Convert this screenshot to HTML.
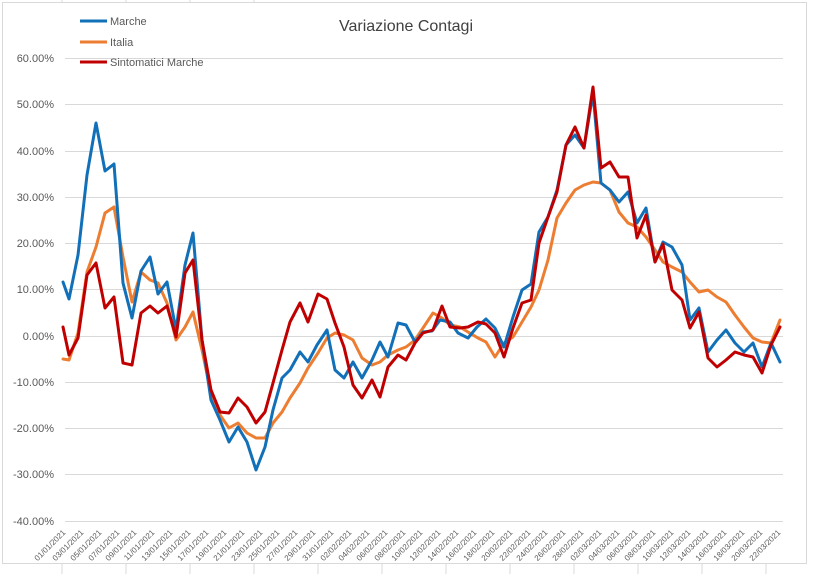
<!DOCTYPE html>
<html><head><meta charset="utf-8"><style>
html,body{margin:0;padding:0;background:#fff;}
svg{display:block;font-family:"Liberation Sans",sans-serif;}
</style></head><body>
<svg width="817" height="574" viewBox="0 0 817 574" xmlns="http://www.w3.org/2000/svg">
<rect x="0" y="0" width="817" height="574" fill="#fff"/>
<g stroke="#d9d9d9" stroke-width="1">
<line x1="62" y1="564" x2="62" y2="574"/><line x1="126" y1="564" x2="126" y2="574"/><line x1="190" y1="564" x2="190" y2="574"/><line x1="254" y1="564" x2="254" y2="574"/><line x1="318" y1="564" x2="318" y2="574"/><line x1="382" y1="564" x2="382" y2="574"/><line x1="446" y1="564" x2="446" y2="574"/><line x1="510" y1="564" x2="510" y2="574"/><line x1="574" y1="564" x2="574" y2="574"/><line x1="638" y1="564" x2="638" y2="574"/><line x1="702" y1="564" x2="702" y2="574"/><line x1="766" y1="564" x2="766" y2="574"/>
<line x1="62" y1="0" x2="62" y2="2"/><line x1="126" y1="0" x2="126" y2="2"/><line x1="190" y1="0" x2="190" y2="2"/><line x1="254" y1="0" x2="254" y2="2"/>
</g>
<rect x="2.5" y="2.5" width="804" height="561" fill="#fff" stroke="#d9d9d9"/>
<g stroke="#d9d9d9" stroke-width="1">
<line x1="65" y1="58.5" x2="783" y2="58.5"/>
<line x1="65" y1="104.5" x2="783" y2="104.5"/>
<line x1="65" y1="151.5" x2="783" y2="151.5"/>
<line x1="65" y1="197.5" x2="783" y2="197.5"/>
<line x1="65" y1="243.5" x2="783" y2="243.5"/>
<line x1="65" y1="289.5" x2="783" y2="289.5"/>
<line x1="65" y1="336.5" x2="783" y2="336.5"/>
<line x1="65" y1="382.5" x2="783" y2="382.5"/>
<line x1="65" y1="428.5" x2="783" y2="428.5"/>
<line x1="65" y1="474.5" x2="783" y2="474.5"/>
<line x1="65" y1="521.5" x2="783" y2="521.5"/>
</g>
<g font-size="11" fill="#595959" text-anchor="end">
<text x="54" y="62">60.00%</text>
<text x="54" y="108">50.00%</text>
<text x="54" y="155">40.00%</text>
<text x="54" y="201">30.00%</text>
<text x="54" y="247">20.00%</text>
<text x="54" y="293">10.00%</text>
<text x="54" y="340">0.00%</text>
<text x="54" y="386">-10.00%</text>
<text x="54" y="432">-20.00%</text>
<text x="54" y="478">-30.00%</text>
<text x="54" y="525">-40.00%</text>
</g>
<text x="406" y="31" font-size="16" fill="#404040" text-anchor="middle">Variazione Contagi</text>
<g stroke-width="3">
<line x1="80" y1="21" x2="107" y2="21" stroke="#1170b8"/>
<line x1="80" y1="42" x2="107" y2="42" stroke="#ed7d31"/>
<line x1="80" y1="62" x2="107" y2="62" stroke="#c00000"/>
</g>
<g font-size="11" fill="#595959">
<text x="110" y="25">Marche</text>
<text x="110" y="46">Italia</text>
<text x="110" y="66">Sintomatici Marche</text>
</g>
<g fill="none" stroke-width="3" stroke-linejoin="round" stroke-linecap="round">
<polyline stroke="#ed7d31" points="63,359 69,360 78,333 87,272 96,247 105,213 114,207 123,257 132,302 141,272 150,280 158,283 167,303 176,340 185,327 193,312 202,350 211,393 220,415 229,428 238,423 247,433 256,438 265,438 273,423 282,412 290,398 300,383 308,368 318,353 327,338 335,333 344,335 353,340 362,358 372,365 380,362 388,355 398,350 406,347 415,340 423,328 433,313 442,318 450,325 460,327 468,332 478,338 486,342 495,357 504,343 513,337 522,322 531,307 539,290 548,260 557,218 566,203 575,190 584,185 593,182 601,183 610,190 619,212 628,223 637,227 646,237 655,250 663,262 672,267 682,272 690,282 699,292 708,290 717,297 726,302 735,315 744,327 753,338 762,342 771,343 780,320"/>
<polyline stroke="#1170b8" points="63,282 69,299 78,255 87,175 96,123 105,171 114,164 123,283 132,318 141,271 150,257 158,294 167,282 176,330 185,265 193,233 202,340 211,400 220,420 229,442 238,427 247,442 256,470 265,447 273,410 282,378 290,370 300,352 308,362 317,345 327,330 335,370 344,378 353,362 362,378 372,360 380,342 388,357 398,323 406,325 415,342 423,332 432,331 440,320 450,322 458,333 468,338 477,327 486,319 495,328 504,347 513,317 522,290 531,284 539,232 548,217 557,190 566,145 575,135 584,148 593,93 601,183 610,190 619,202 628,192 637,223 646,208 655,262 663,242 672,247 682,265 690,320 699,308 708,352 717,340 726,330 735,343 744,352 753,343 762,367 771,343 780,362"/>
<polyline stroke="#c00000" points="63,327 69,355 78,338 87,275 96,263 105,308 114,297 123,363 132,365 141,313 150,306 158,313 167,306 176,337 185,273 193,260 202,340 211,390 220,412 229,413 238,398 247,407 256,423 265,412 273,383 282,350 290,322 300,303 308,322 318,294 327,299 335,323 344,347 353,385 362,398 372,380 380,397 388,367 398,355 406,360 415,343 423,333 433,330 442,306 450,327 460,328 468,327 478,322 486,324 495,333 504,357 513,328 522,303 531,300 539,243 548,217 557,192 566,145 575,127 584,148 593,87 601,168 610,162 619,177 628,177 637,238 646,215 655,262 663,244 672,290 682,300 690,328 699,312 708,358 717,367 726,360 735,352 744,355 753,357 762,373 771,345 780,327"/>
</g>
<g font-size="8" fill="#595959" text-anchor="end">
<text transform="translate(66,533) rotate(-45)">01/01/2021</text>
<text transform="translate(84,533) rotate(-45)">03/01/2021</text>
<text transform="translate(102,533) rotate(-45)">05/01/2021</text>
<text transform="translate(120,533) rotate(-45)">07/01/2021</text>
<text transform="translate(137,533) rotate(-45)">09/01/2021</text>
<text transform="translate(155,533) rotate(-45)">11/01/2021</text>
<text transform="translate(173,533) rotate(-45)">13/01/2021</text>
<text transform="translate(191,533) rotate(-45)">15/01/2021</text>
<text transform="translate(209,533) rotate(-45)">17/01/2021</text>
<text transform="translate(227,533) rotate(-45)">19/01/2021</text>
<text transform="translate(245,533) rotate(-45)">21/01/2021</text>
<text transform="translate(263,533) rotate(-45)">23/01/2021</text>
<text transform="translate(280,533) rotate(-45)">25/01/2021</text>
<text transform="translate(298,533) rotate(-45)">27/01/2021</text>
<text transform="translate(316,533) rotate(-45)">29/01/2021</text>
<text transform="translate(334,533) rotate(-45)">31/01/2021</text>
<text transform="translate(352,533) rotate(-45)">02/02/2021</text>
<text transform="translate(370,533) rotate(-45)">04/02/2021</text>
<text transform="translate(388,533) rotate(-45)">06/02/2021</text>
<text transform="translate(406,533) rotate(-45)">08/02/2021</text>
<text transform="translate(423,533) rotate(-45)">10/02/2021</text>
<text transform="translate(441,533) rotate(-45)">12/02/2021</text>
<text transform="translate(459,533) rotate(-45)">14/02/2021</text>
<text transform="translate(477,533) rotate(-45)">16/02/2021</text>
<text transform="translate(495,533) rotate(-45)">18/02/2021</text>
<text transform="translate(513,533) rotate(-45)">20/02/2021</text>
<text transform="translate(531,533) rotate(-45)">22/02/2021</text>
<text transform="translate(548,533) rotate(-45)">24/02/2021</text>
<text transform="translate(566,533) rotate(-45)">26/02/2021</text>
<text transform="translate(584,533) rotate(-45)">28/02/2021</text>
<text transform="translate(602,533) rotate(-45)">02/03/2021</text>
<text transform="translate(620,533) rotate(-45)">04/03/2021</text>
<text transform="translate(638,533) rotate(-45)">06/03/2021</text>
<text transform="translate(656,533) rotate(-45)">08/03/2021</text>
<text transform="translate(674,533) rotate(-45)">10/03/2021</text>
<text transform="translate(691,533) rotate(-45)">12/03/2021</text>
<text transform="translate(709,533) rotate(-45)">14/03/2021</text>
<text transform="translate(727,533) rotate(-45)">16/03/2021</text>
<text transform="translate(745,533) rotate(-45)">18/03/2021</text>
<text transform="translate(763,533) rotate(-45)">20/03/2021</text>
<text transform="translate(781,533) rotate(-45)">22/03/2021</text>
</g>
</svg>
</body></html>
